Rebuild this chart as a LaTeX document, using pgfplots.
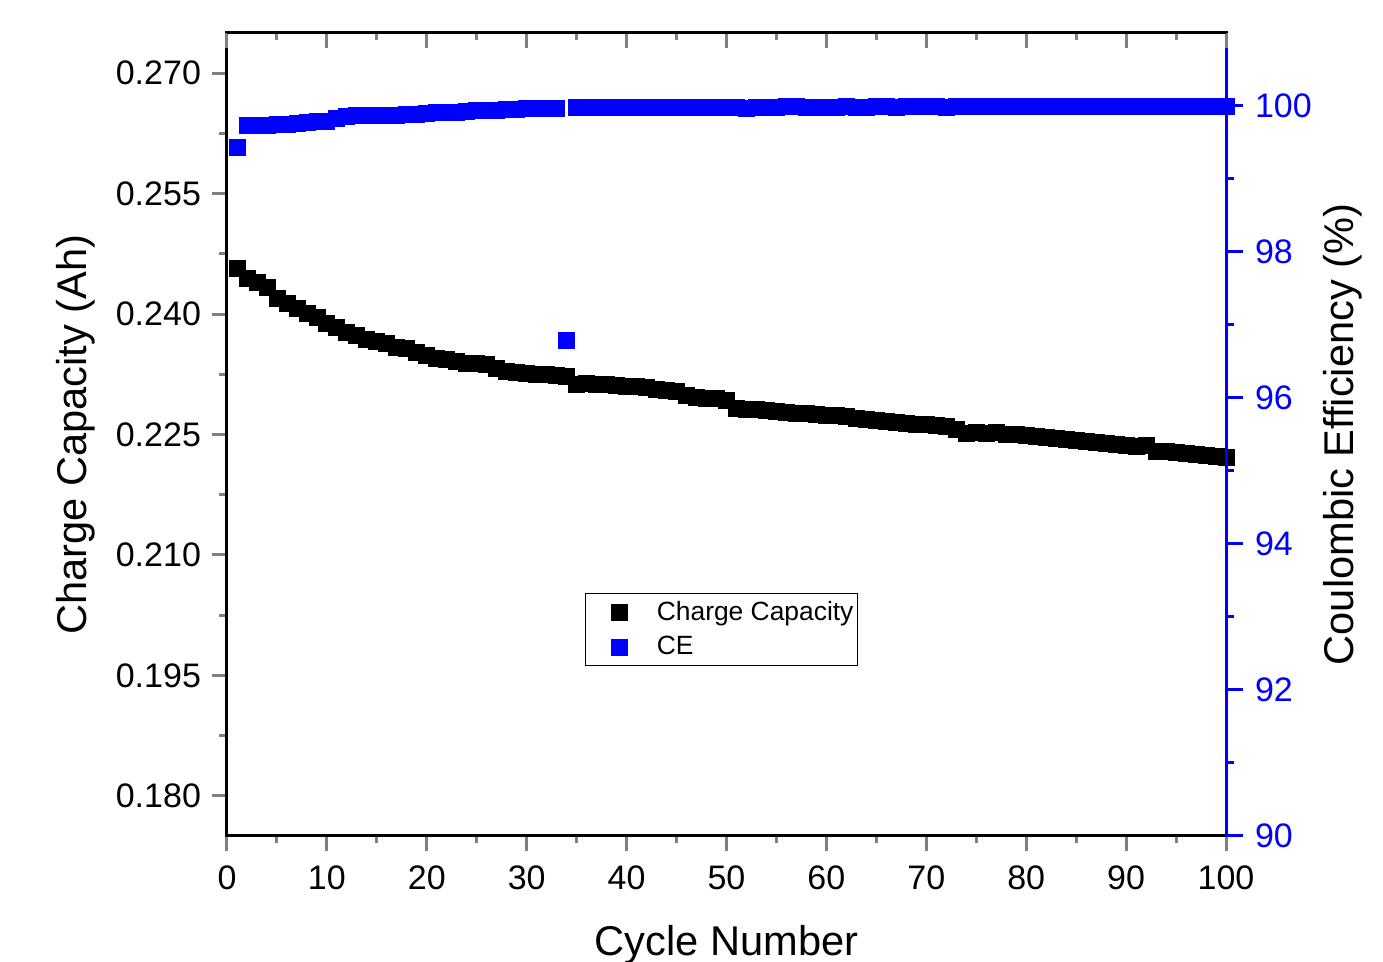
\documentclass[border=0pt]{standalone}
\usepackage{pgfplots}
\pgfplotsset{compat=1.18}
\usepackage{pgfplotstable}
\usepackage{fontspec}
\setmainfont{Liberation Sans}

\pgfplotstableread{
cycle cap
1 0.24573
2 0.24448
3 0.24398
4 0.24332
5 0.24199
6 0.24137
7 0.24075
8 0.24012
9 0.23959
10 0.23888
11 0.23834
12 0.23776
13 0.23735
14 0.23689
15 0.23660
16 0.23639
17 0.23585
18 0.23577
19 0.23527
20 0.23486
21 0.23452
22 0.23440
23 0.23411
24 0.23390
25 0.23390
26 0.23369
27 0.23328
28 0.23287
29 0.23278
30 0.23265
31 0.23253
32 0.23253
33 0.23237
34 0.23224
35 0.23128
36 0.23140
37 0.23128
38 0.23122
39 0.23110
40 0.23104
41 0.23097
42 0.23085
43 0.23066
44 0.23054
45 0.23035
46 0.22992
47 0.22967
48 0.22954
49 0.22954
50 0.22929
51 0.22830
52 0.22817
53 0.22811
54 0.22798
55 0.22786
56 0.22774
57 0.22767
58 0.22767
59 0.22755
60 0.22743
61 0.22736
62 0.22724
63 0.22705
64 0.22693
65 0.22680
66 0.22668
67 0.22656
68 0.22643
69 0.22631
70 0.22624
71 0.22618
72 0.22606
73 0.22568
74 0.22519
75 0.22525
76 0.22519
77 0.22531
78 0.22506
79 0.22500
80 0.22487
81 0.22475
82 0.22463
83 0.22450
84 0.22438
85 0.22425
86 0.22413
87 0.22400
88 0.22388
89 0.22376
90 0.22363
91 0.22351
92 0.22370
93 0.22294
94 0.22288
95 0.22282
96 0.22270
97 0.22257
98 0.22245
99 0.22232
100 0.22220
}\captable

\pgfplotstableread{
cycle ce
1 99.438
2 99.728
3 99.731
4 99.733
5 99.742
6 99.746
7 99.764
8 99.769
9 99.788
10 99.792
11 99.831
12 99.862
13 99.865
14 99.868
15 99.870
16 99.872
17 99.875
18 99.888
19 99.890
20 99.892
21 99.910
22 99.913
23 99.916
24 99.930
25 99.933
26 99.943
27 99.945
28 99.948
29 99.960
30 99.962
31 99.963
32 99.965
33 99.966
34 96.795
35 99.975
36 99.977
37 99.978
38 99.980
39 99.982
40 99.985
41 99.985
42 99.986
43 99.986
44 99.985
45 99.986
46 99.986
47 99.986
48 99.986
49 99.986
50 99.986
51 99.985
52 99.963
53 99.984
54 99.986
55 99.986
56 99.988
57 99.988
58 99.987
59 99.986
60 99.986
61 99.987
62 99.988
63 99.987
64 99.987
65 99.988
66 99.988
67 99.987
68 99.988
69 99.988
70 99.988
71 99.988
72 99.987
73 99.988
74 99.988
75 99.988
76 99.988
77 99.988
78 99.988
79 99.988
80 99.988
81 99.988
82 99.988
83 99.988
84 99.988
85 99.988
86 99.988
87 99.988
88 99.988
89 99.988
90 99.988
91 99.988
92 99.988
93 99.988
94 99.988
95 99.988
96 99.988
97 99.988
98 99.988
99 99.988
100 99.988
}\cetable

\pgfplotsset{
  base/.style={
    scale only axis,
    width=499.5pt, height=401.5pt,
    xmin=0, xmax=100,
    /pgf/number format/assume math mode=true,
    axis line style={line width=1.5pt},
    tick style={line width=1.5pt},
    major tick length=7.5pt,
    minor tick length=3.75pt,
    ticklabel style={font=\fontsize{17}{20}\selectfont},
    label style={font=\fontsize{20.8}{25}\selectfont},
  },
  sqleg/.style={legend image code/.code={
      \path (0pt,0pt) (31pt,0pt);
      \draw[##1] plot coordinates {(15pt,0pt)};}},
}

\begin{document}
\begin{tikzpicture}
\begin{axis}[base,
  ymin=0.175, ymax=0.275,
  ytick={0.180,0.195,0.210,0.225,0.240,0.255,0.270},
  minor y tick num=1,
  xtick={0,10,...,100},
  minor x tick num=1,
  xtick pos=left, ytick pos=left,
  tick align=outside,
  scaled y ticks=false,
  yticklabel style={/pgf/number format/fixed, /pgf/number format/fixed zerofill, /pgf/number format/precision=3, xshift=-2pt},
  xticklabel style={yshift=-4pt},
  xlabel={Cycle Number},
  ylabel={Charge Capacity (Ah)},
  xlabel style={at={(axis description cs:0.5,-0.136)}, anchor=center},
  ylabel style={at={(axis description cs:-0.151,0.5)}, anchor=center},
]
\addplot[only marks, mark=square*, mark size=4pt, black, mark options={draw=none, fill=black}] table[x=cycle, y=cap]{\captable};
\end{axis}

\begin{axis}[base,
  ymin=90, ymax=101,
  axis y line*=right, axis x line=none,
  ytick={90,92,...,100},
  minor y tick num=1,
  tick align=outside,
  major tick length=8.5pt,
  y axis line style={blue, line width=1.5pt},
  ytick style={blue, line width=1.5pt},
  yticklabel style={blue, xshift=2.5pt},
  ylabel={Coulombic Efficiency (\%)},
  ylabel style={at={(axis description cs:1.117,0.5)}, anchor=center, rotate=0},
  legend style={at={(axis description cs:0.358,0.303)}, anchor=north west,
    draw=black, thin, font=\fontsize{13.2}{16}\selectfont,
    inner xsep=2pt, inner ysep=2pt, row sep=2.5pt,
    nodes={inner xsep=0pt},
    column sep=2.5pt},
  legend cell align=left,
]
\addlegendimage{only marks, sqleg, mark=square*, mark size=4pt, black, mark options={draw=none, fill=black}}
\addlegendentry{Charge Capacity}
\addplot[only marks, sqleg, mark=square*, mark size=4pt, blue, mark options={draw=none, fill=blue}] table[x=cycle, y=ce]{\cetable};
\addlegendentry{CE}
\end{axis}

\begin{axis}[base,
  ymin=0, ymax=1,
  axis x line*=top, axis y line=none,
  xtick={0,10,...,100},
  minor x tick num=1,
  xticklabel style={opacity=0},
  tick align=inside,
]
\end{axis}

\pgfresetboundingbox
\useasboundingbox (-113.5pt,-63pt) rectangle (578pt,418pt);
\end{tikzpicture}
\end{document}
